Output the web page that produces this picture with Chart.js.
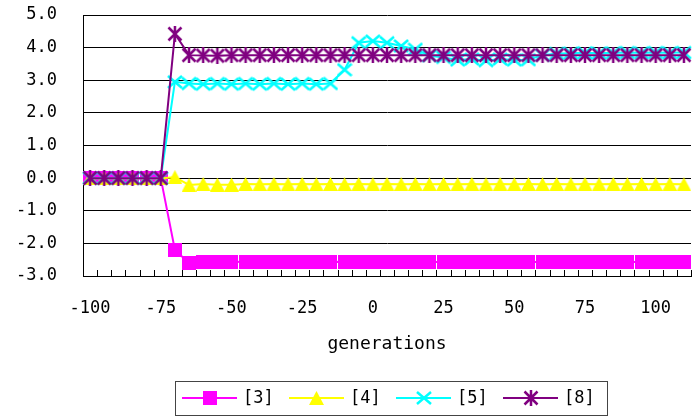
<!DOCTYPE html>
<html>
<head>
<meta charset="utf-8">
<script src="https://cdn.jsdelivr.net/npm/chart.js@4.4.1/dist/chart.umd.min.js"></script>
<style>
  html, body { margin: 0; padding: 0; background: #fff; overflow: hidden; }
  #wrap { width: 696px; height: 417px; overflow: hidden; }
</style>
</head>
<body>
<div id="wrap"><canvas id="chart" width="700" height="417"></canvas></div>
<script>
// --- DATA ---
const generations = [-100, -95, -90, -85, -80, -75, -70, -65, -60, -55, -50, -45, -40, -35, -30, -25, -20, -15, -10, -5,
  0, 5, 10, 15, 20, 25, 30, 35, 40, 45, 50, 55, 60, 65, 70, 75, 80, 85, 90, 95, 100, 105, 110];

const series3 = [0, 0, 0, 0, 0, 0, -2.2, -2.6, -2.58, -2.56, -2.56, -2.57, -2.56, -2.57, -2.58, -2.57, -2.56, -2.57, -2.56, -2.57,
  -2.56, -2.57, -2.57, -2.56, -2.57, -2.57, -2.58, -2.57, -2.56, -2.57, -2.58, -2.57, -2.57, -2.56, -2.57, -2.58, -2.57, -2.56, -2.57, -2.57,
  -2.58, -2.57, -2.58];
const series4 = [0, 0, 0, 0, 0, 0, 0.03, -0.21, -0.18, -0.2, -0.2, -0.18, -0.19, -0.18, -0.19, -0.18, -0.19, -0.18, -0.19, -0.18,
  -0.19, -0.18, -0.19, -0.18, -0.19, -0.18, -0.19, -0.18, -0.19, -0.18, -0.19, -0.18, -0.19, -0.18, -0.19, -0.18, -0.19, -0.18, -0.19, -0.18,
  -0.19, -0.18, -0.19];
const series5 = [0, 0, 0, 0, 0, 0, 2.95, 2.9, 2.88, 2.9, 2.88, 2.9, 2.88, 2.9, 2.88, 2.9, 2.88, 2.9, 3.32, 4.15,
  4.2, 4.15, 4.05, 3.95, 3.75, 3.7, 3.62, 3.65, 3.6, 3.65, 3.62, 3.63, 3.77, 3.82, 3.83, 3.84, 3.83, 3.84, 3.85, 3.84,
  3.85, 3.84, 3.85];
const series8 = [0, 0, 0, 0, 0, 0, 4.42, 3.77, 3.76, 3.75, 3.77, 3.77, 3.77, 3.77, 3.77, 3.77, 3.77, 3.77, 3.77, 3.77,
  3.77, 3.77, 3.77, 3.77, 3.77, 3.77, 3.77, 3.77, 3.77, 3.77, 3.77, 3.77, 3.77, 3.77, 3.77, 3.77, 3.77, 3.77, 3.77, 3.77,
  3.77, 3.77, 3.77];

const seriesNames = ['[3]', '[4]', '[5]', '[8]'];
const seriesColors = ['#FF00FF', '#FFFF00', '#00FFFF', '#800080'];
const yTicks = [-3, -2, -1, 0, 1, 2, 3, 4, 5];

const FONT = '"DejaVu Sans Mono", monospace';

// --- MARKERS ---
function makeMarker(kind, color) {
    const c = document.createElement('canvas');
    const ctx = c.getContext('2d');
    if (kind === 'square') {
        c.width = 14; c.height = 14;
        ctx.fillStyle = color;
        ctx.fillRect(0, 0, 14, 14);
    } else if (kind === 'triangle') {
        c.width = 15; c.height = 14;
        ctx.fillStyle = color;
        ctx.beginPath();
        ctx.moveTo(7.5, 0); ctx.lineTo(15, 14); ctx.lineTo(0, 14);
        ctx.closePath(); ctx.fill();
    } else if (kind === 'x') {
        c.width = 16; c.height = 16;
        ctx.strokeStyle = color; ctx.lineWidth = 2.5;
        ctx.beginPath();
        ctx.moveTo(1, 2); ctx.lineTo(15, 14);
        ctx.moveTo(15, 2); ctx.lineTo(1, 14);
        ctx.stroke();
    } else {
        c.width = 16; c.height = 16;
        ctx.strokeStyle = color; ctx.lineWidth = 2.5;
        ctx.beginPath();
        ctx.moveTo(1.5, 1.5); ctx.lineTo(14.5, 14.5);
        ctx.moveTo(14.5, 1.5); ctx.lineTo(1.5, 14.5);
        ctx.moveTo(8, 0); ctx.lineTo(8, 16);
        ctx.stroke();
    }
    return c;
}

const markers = [
    makeMarker('square', seriesColors[0]),
    makeMarker('triangle', seriesColors[1]),
    makeMarker('x', seriesColors[2]),
    makeMarker('star', seriesColors[3])
];

const allSeries = [series3, series4, series5, series8];

// --- PLUGINS ---
// short ticks inside the plot, on category boundaries
const innerTicks = {
    id: 'innerTicks',
    afterDatasetsDraw(chart) {
        const x = chart.scales.x;
        const bottom = chart.chartArea.bottom;
        const step = x.getPixelForValue(1) - x.getPixelForValue(0);
        const ctx = chart.ctx;
        ctx.save();
        ctx.strokeStyle = '#000';
        ctx.lineWidth = 1;
        ctx.beginPath();
        for (let i = 0; i <= generations.length; i++) {
            const px = Math.round(x.getPixelForValue(0) - step / 2 + i * step) + 0.5;
            ctx.moveTo(px, bottom);
            ctx.lineTo(px, bottom - 6);
        }
        ctx.stroke();
        ctx.restore();
    }
};

const boxLegend = {
    id: 'boxLegend',
    afterDraw(chart) {
        const ctx = chart.ctx;
        ctx.save();
        ctx.strokeStyle = '#444';
        ctx.lineWidth = 1;
        ctx.strokeRect(175.5, 381.5, 432, 34);
        const cy = 398;
        chart.data.datasets.forEach((ds, i) => {
            const x0 = 182 + i * 107;
            ctx.strokeStyle = ds.borderColor;
            ctx.lineWidth = 2;
            ctx.beginPath();
            ctx.moveTo(x0, cy);
            ctx.lineTo(x0 + 55, cy);
            ctx.stroke();
            const img = ds.pointStyle;
            ctx.drawImage(img, Math.round(x0 + 27.5 - img.width / 2), Math.round(cy - img.height / 2));
            ctx.fillStyle = '#000';
            ctx.font = '17px ' + FONT;
            ctx.textBaseline = 'middle';
            ctx.textAlign = 'left';
            ctx.fillText(ds.label, x0 + 61, cy + 1);
        });
        ctx.restore();
    }
};

// --- CHART ---
const datasets = allSeries.map((data, i) => ({
    label: seriesNames[i],
    data: data,
    borderColor: seriesColors[i],
    backgroundColor: seriesColors[i],
    borderWidth: 2,
    pointStyle: markers[i],
    pointRadius: 7,
    tension: 0,
    order: 4 - i
}));

new Chart(document.getElementById('chart'), {
    type: 'line',
    data: { labels: generations, datasets },
    options: {
        responsive: false,
        animation: false,
        devicePixelRatio: 1,
        layout: { padding: { top: 15, right: 2, left: 0, bottom: 0 } },
        plugins: { legend: { display: false }, tooltip: { enabled: false } },
        scales: {
            x: {
                offset: true,
                grid: { display: false, offset: true },
                border: { display: true, color: '#000', width: 1 },
                ticks: {
                    autoSkip: false,
                    maxRotation: 0,
                    minRotation: 0,
                    padding: 14,
                    color: '#000',
                    font: { family: FONT, size: 17 },
                    callback: (v, i) => (i % 5 === 0 ? String(generations[i]) : '')
                },
                title: {
                    display: true,
                    text: 'generations',
                    color: '#000',
                    font: { family: FONT, size: 18 },
                    padding: { top: 0, bottom: 62 }
                },
                afterFit: s => { s.height = 141; }
            },
            y: {
                min: yTicks[0],
                max: yTicks[yTicks.length - 1],
                afterBuildTicks: s => { s.ticks = yTicks.map(v => ({ value: v })); },
                grid: { color: '#000', lineWidth: 1, drawTicks: true, tickLength: 26, tickColor: 'rgba(0,0,0,0)' },
                border: { display: true, color: '#000', width: 1 },
                ticks: {
                    padding: 0,
                    color: '#000',
                    font: { family: FONT, size: 17 },
                    callback: v => Number(v).toFixed(1)
                },
                afterFit: s => { s.width = 83; }
            }
        }
    },
    plugins: [innerTicks, boxLegend]
});
</script>
</body>
</html>
